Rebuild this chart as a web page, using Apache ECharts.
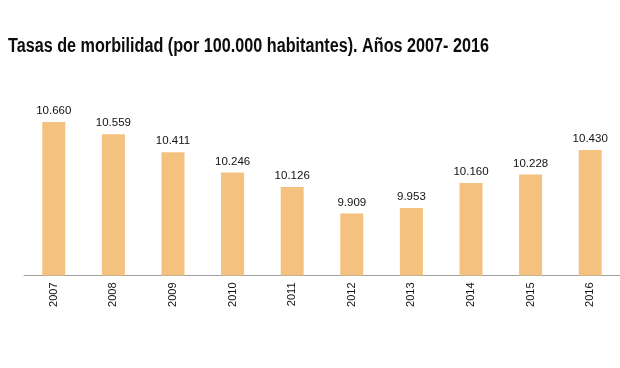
<!DOCTYPE html>
<html>
<head>
<meta charset="utf-8">
<script src="https://cdn.jsdelivr.net/npm/echarts@6/dist/echarts.min.js"></script>
<style>html,body{margin:0;padding:0;background:#fff}#c{width:620px;height:368px}</style>
</head>
<body>
<div id="c"></div>
<script>
const titleText = 'Tasas de morbilidad (por 100.000 habitantes). Años 2007- 2016';
const years = ['2007','2008','2009','2010','2011','2012','2013','2014','2015','2016'];
const rates = [10660,10559,10411,10246,10126,9909,9953,10160,10228,10430];
const labels = ['10.660','10.559','10.411','10.246','10.126','9.909','9.953','10.160','10.228','10.430'];

const chart = echarts.init(document.getElementById('c'));
chart.setOption({
  animation: false,
  backgroundColor: '#ffffff',
  graphic: [{
    type: 'text', x: 8, y: 37, scaleX: 0.83, scaleY: 1,
    style: {
      text: titleText, align: 'left', verticalAlign: 'top',
      font: 'bold 19.5px "Liberation Sans", Arial', fill: '#0d0d0d'
    }
  }],
  grid: {left: 24, top: 80.5, width: 598, height: 195, containLabel: false},
  xAxis: {
    type: 'category', data: years,
    axisLine: {lineStyle: {color: '#a0a0a0', width: 1}},
    axisTick: {show: false},
    axisLabel: {rotate: 90, margin: 7, fontSize: 11, color: '#111', fontFamily: '"Liberation Sans", Arial'}
  },
  yAxis: {
    type: 'value', min: 9400, max: 11000,
    show: false, splitLine: {show: false}
  },
  series: [{
    type: 'bar', data: rates, barWidth: 23,
    itemStyle: {color: '#F4C27E'},
    label: {
      show: true, position: 'top', distance: 5,
      fontSize: 11.5, color: '#111', fontFamily: '"Liberation Sans", Arial',
      formatter: p => labels[p.dataIndex]
    }
  }]
});
</script>
</body>
</html>
